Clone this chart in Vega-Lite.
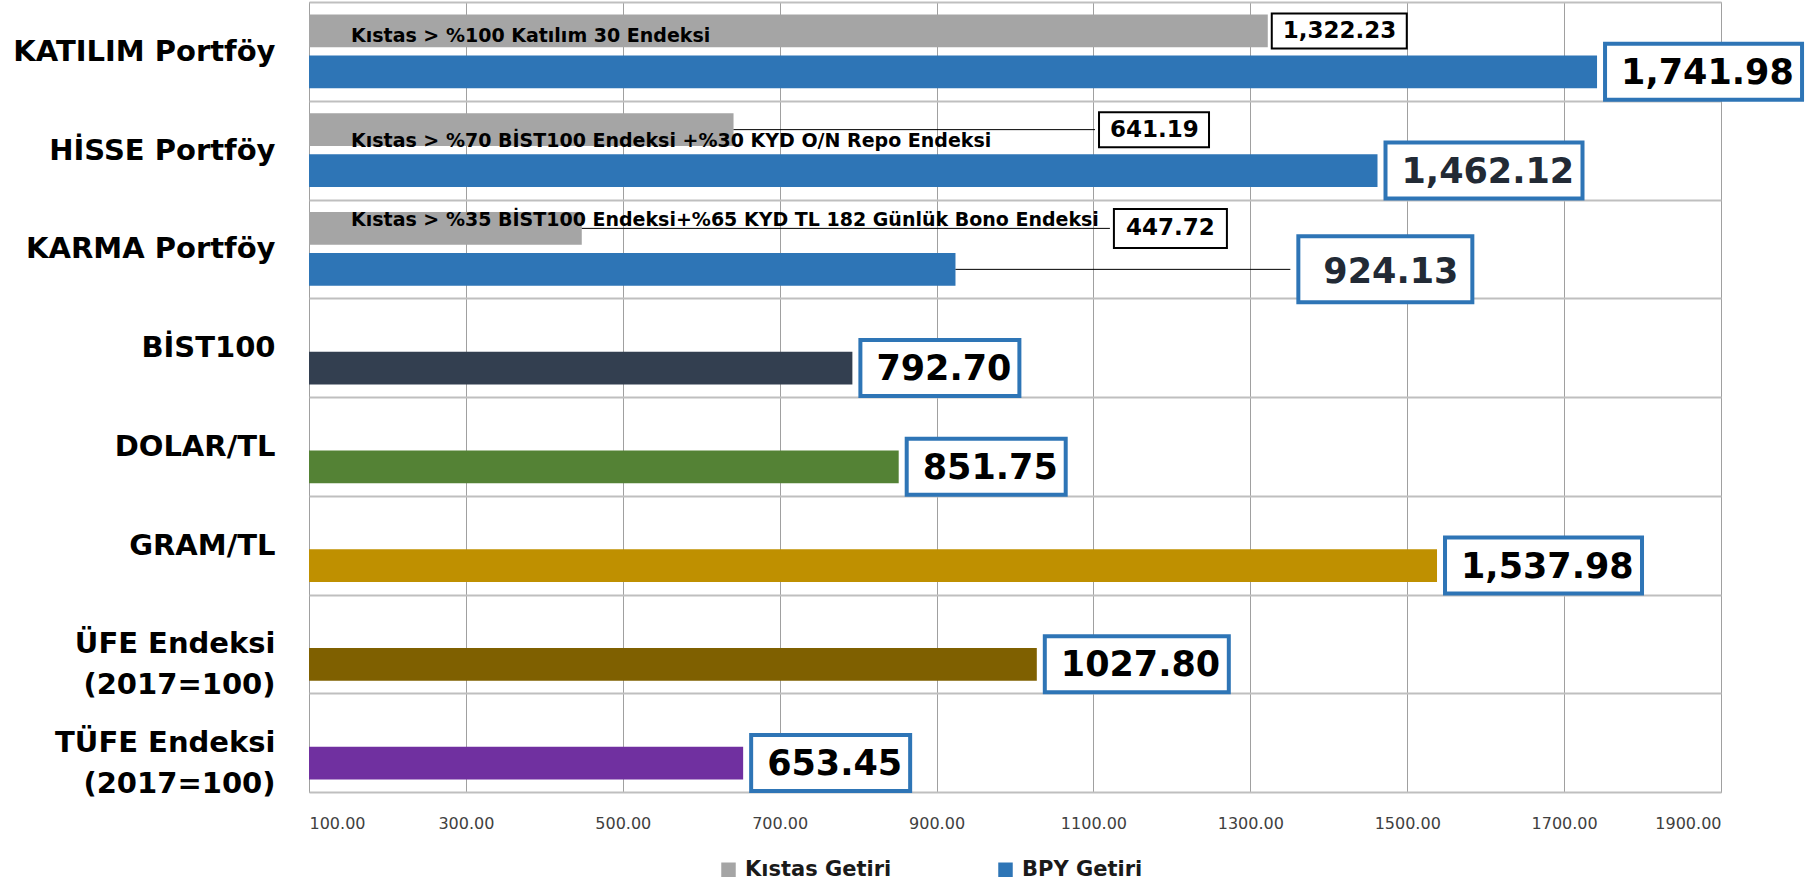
{
  "$schema": "https://vega.github.io/schema/vega-lite/v6.json",
  "autosize": {"type": "none"},
  "width": 1412,
  "height": 790,
  "padding": {"left": 309, "top": 2, "right": 85, "bottom": 91},
  "background": "white",
  "config": {
    "font": "DejaVu Sans",
    "view": {"stroke": "#A6A6A6", "strokeWidth": 1}
  },
  "data": {
    "values": [
      {"cat": "KATILIM Portföy", "series": "Kıstas Getiri", "value": 1322.23, "label": "1,322.23", "desc": "Kıstas > %100 Katılım 30 Endeksi"},
      {"cat": "KATILIM Portföy", "series": "BPY Getiri", "value": 1741.98, "label": "1,741.98"},
      {"cat": "HİSSE Portföy", "series": "Kıstas Getiri", "value": 641.19, "label": "641.19", "desc": "Kıstas > %70 BİST100 Endeksi +%30 KYD O/N Repo Endeksi"},
      {"cat": "HİSSE Portföy", "series": "BPY Getiri", "value": 1462.12, "label": "1,462.12"},
      {"cat": "KARMA Portföy", "series": "Kıstas Getiri", "value": 447.72, "label": "447.72", "desc": "Kıstas > %35 BİST100 Endeksi+%65 KYD TL 182 Günlük Bono Endeksi"},
      {"cat": "KARMA Portföy", "series": "BPY Getiri", "value": 924.13, "label": "924.13"},
      {"cat": "BİST100", "series": "BPY Getiri", "value": 792.70, "label": "792.70"},
      {"cat": "DOLAR/TL", "series": "BPY Getiri", "value": 851.75, "label": "851.75"},
      {"cat": "GRAM/TL", "series": "BPY Getiri", "value": 1537.98, "label": "1,537.98"},
      {"cat": "ÜFE Endeksi (2017=100)", "series": "BPY Getiri", "value": 1027.80, "label": "1027.80"},
      {"cat": "TÜFE Endeksi (2017=100)", "series": "BPY Getiri", "value": 653.45, "label": "653.45"}
    ]
  },
  "encoding": {
    "y": {
      "field": "cat", "type": "nominal",
      "sort": ["KATILIM Portföy", "HİSSE Portföy", "KARMA Portföy", "BİST100", "DOLAR/TL", "GRAM/TL", "ÜFE Endeksi (2017=100)", "TÜFE Endeksi (2017=100)"],
      "scale": {"paddingInner": 0, "paddingOuter": 0},
      "axis": {
        "title": null, "ticks": false, "domain": false,
        "grid": true, "tickBand": "extent", "gridColor": "#BFBFBF", "gridWidth": 2,
        "labelFont": "DejaVu Sans", "labelFontWeight": "bold", "labelFontSize": 29, "labelColor": "#000000",
        "labelPadding": 34, "labelLimit": 500, "labelLineHeight": 41,
        "labelExpr": "indexof(datum.label,' (')>0 ? [slice(datum.label,0,indexof(datum.label,' (')), slice(datum.label,indexof(datum.label,' (')+1)] : datum.label"
      }
    },
    "yOffset": {
      "field": "series", "type": "nominal",
      "scale": {"domain": ["Kıstas Getiri", "BPY Getiri"], "paddingInner": 0.2, "paddingOuter": 0.305}
    }
  },
  "layer": [
    {
      "mark": {"type": "bar"},
      "encoding": {
        "x": {
          "field": "value", "type": "quantitative",
          "scale": {"domain": [100, 1900], "nice": false, "zero": false, "clamp": true},
          "axis": {
            "title": null, "values": [100, 300, 500, 700, 900, 1100, 1300, 1500, 1700, 1900],
            "format": ".2f", "grid": true, "gridColor": "#A0A0A0", "gridWidth": 1,
            "ticks": false, "domain": false,
            "labelFont": "DejaVu Sans", "labelFontSize": 16, "labelColor": "#404040", "labelPadding": 23
          }
        },
        "color": {
          "field": "series", "type": "nominal",
          "scale": {"domain": ["Kıstas Getiri", "BPY Getiri"], "range": ["#A5A5A5", "#2E75B6"]},
          "condition": [
            {"test": "datum.cat === 'BİST100'", "value": "#333F50"},
            {"test": "datum.cat === 'DOLAR/TL'", "value": "#548235"},
            {"test": "datum.cat === 'GRAM/TL'", "value": "#BF9000"},
            {"test": "datum.cat === 'ÜFE Endeksi (2017=100)'", "value": "#7F6000"},
            {"test": "datum.cat === 'TÜFE Endeksi (2017=100)'", "value": "#7030A0"}
          ],
          "legend": {
            "orient": "none", "legendX": 409, "legendY": 857, "direction": "horizontal",
            "title": null, "symbolType": "square", "symbolSize": 210, "symbolStrokeWidth": 0,
            "labelFont": "DejaVu Sans", "labelFontSize": 21, "labelFontWeight": "bold", "labelColor": "#1a1a1a",
            "labelOffset": 6, "columnPadding": 103, "padding": 0
          }
        }
      }
    },
    {
      "transform": [{"filter": "datum.cat === 'KATILIM Portföy' && datum.series === 'Kıstas Getiri'"}],
      "layer": [
        {
          "mark": {"type": "text", "align": "left", "baseline": "middle", "dx": 42, "dy": 5, "fontSize": 19, "fontWeight": "bold", "color": "#000000"},
          "encoding": {"x": {"datum": 100, "type": "quantitative"}, "text": {"field": "desc"}}
        },
        {
          "mark": {"type": "rule", "color": "#000000", "strokeWidth": 37, "xOffset": 3, "x2Offset": 140},
          "encoding": {"x": {"field": "value", "type": "quantitative"}, "x2": {"field": "value"}}
        },
        {
          "mark": {"type": "rule", "color": "#FFFFFF", "strokeWidth": 33, "xOffset": 5, "x2Offset": 138},
          "encoding": {"x": {"field": "value", "type": "quantitative"}, "x2": {"field": "value"}}
        },
        {
          "mark": {"type": "text", "align": "left", "baseline": "middle", "dx": 15, "fontSize": 23, "fontWeight": "bold", "color": "#000000"},
          "encoding": {"x": {"field": "value", "type": "quantitative"}, "text": {"field": "label"}}
        }
      ]
    },
    {
      "transform": [{"filter": "datum.cat === 'HİSSE Portföy' && datum.series === 'Kıstas Getiri'"}],
      "layer": [
        {
          "mark": {"type": "rule", "color": "#000000", "strokeWidth": 1},
          "encoding": {"x": {"field": "value", "type": "quantitative"}, "x2": {"datum": 1102}}
        },
        {
          "mark": {"type": "text", "align": "left", "baseline": "middle", "dx": 42, "dy": 11, "fontSize": 19, "fontWeight": "bold", "color": "#000000"},
          "encoding": {"x": {"datum": 100, "type": "quantitative"}, "text": {"field": "desc"}}
        },
        {
          "mark": {"type": "rule", "color": "#000000", "strokeWidth": 37, "xOffset": 3, "x2Offset": 115},
          "encoding": {"x": {"datum": 1102, "type": "quantitative"}, "x2": {"datum": 1102}}
        },
        {
          "mark": {"type": "rule", "color": "#FFFFFF", "strokeWidth": 33, "xOffset": 5, "x2Offset": 113},
          "encoding": {"x": {"datum": 1102, "type": "quantitative"}, "x2": {"datum": 1102}}
        },
        {
          "mark": {"type": "text", "align": "left", "baseline": "middle", "dx": 15, "fontSize": 23, "fontWeight": "bold", "color": "#000000"},
          "encoding": {"x": {"datum": 1102, "type": "quantitative"}, "text": {"field": "label"}}
        }
      ]
    },
    {
      "transform": [{"filter": "datum.cat === 'KARMA Portföy' && datum.series === 'Kıstas Getiri'"}],
      "layer": [
        {
          "mark": {"type": "rule", "color": "#000000", "strokeWidth": 1},
          "encoding": {"x": {"field": "value", "type": "quantitative"}, "x2": {"datum": 1121}}
        },
        {
          "mark": {"type": "text", "align": "left", "baseline": "middle", "dx": 42, "dy": -8, "fontSize": 19, "fontWeight": "bold", "color": "#000000"},
          "encoding": {"x": {"datum": 100, "type": "quantitative"}, "text": {"field": "desc"}}
        },
        {
          "mark": {"type": "rule", "color": "#000000", "strokeWidth": 41, "xOffset": 3, "x2Offset": 118},
          "encoding": {"x": {"datum": 1121, "type": "quantitative"}, "x2": {"datum": 1121}}
        },
        {
          "mark": {"type": "rule", "color": "#FFFFFF", "strokeWidth": 37, "xOffset": 5, "x2Offset": 116},
          "encoding": {"x": {"datum": 1121, "type": "quantitative"}, "x2": {"datum": 1121}}
        },
        {
          "mark": {"type": "text", "align": "left", "baseline": "middle", "dx": 16, "fontSize": 23, "fontWeight": "bold", "color": "#000000"},
          "encoding": {"x": {"datum": 1121, "type": "quantitative"}, "text": {"field": "label"}}
        }
      ]
    },
    {
      "transform": [{"filter": "datum.cat === 'KARMA Portföy' && datum.series === 'BPY Getiri'"}],
      "layer": [
        {
          "mark": {"type": "rule", "color": "#000000", "strokeWidth": 1},
          "encoding": {"x": {"field": "value", "type": "quantitative"}, "x2": {"datum": 1351}}
        },
        {
          "mark": {"type": "rule", "color": "#2E75B6", "strokeWidth": 70, "xOffset": 6, "x2Offset": 184},
          "encoding": {"x": {"datum": 1351, "type": "quantitative"}, "x2": {"datum": 1351}}
        },
        {
          "mark": {"type": "rule", "color": "#FFFFFF", "strokeWidth": 62, "xOffset": 10, "x2Offset": 180},
          "encoding": {"x": {"datum": 1351, "type": "quantitative"}, "x2": {"datum": 1351}}
        },
        {
          "mark": {"type": "text", "align": "left", "baseline": "middle", "dx": 33, "dy": 3, "fontSize": 35, "fontWeight": "bold", "color": "#222A35"},
          "encoding": {"x": {"datum": 1351, "type": "quantitative"}, "text": {"field": "label"}}
        }
      ]
    },
    {
      "transform": [{"filter": "datum.series === 'BPY Getiri' && (datum.cat === 'KATILIM Portföy' || datum.cat === 'HİSSE Portföy' || datum.cat === 'GRAM/TL')"}],
      "layer": [
        {
          "mark": {"type": "rule", "color": "#2E75B6", "strokeWidth": 60, "xOffset": 6, "x2Offset": 207},
          "encoding": {"x": {"field": "value", "type": "quantitative"}, "x2": {"field": "value"}}
        },
        {
          "mark": {"type": "rule", "color": "#FFFFFF", "strokeWidth": 52, "xOffset": 10, "x2Offset": 203},
          "encoding": {"x": {"field": "value", "type": "quantitative"}, "x2": {"field": "value"}}
        }
      ]
    },
    {
      "transform": [{"filter": "datum.cat === 'ÜFE Endeksi (2017=100)'"}],
      "layer": [
        {
          "mark": {"type": "rule", "color": "#2E75B6", "strokeWidth": 60, "xOffset": 6, "x2Offset": 194},
          "encoding": {"x": {"field": "value", "type": "quantitative"}, "x2": {"field": "value"}}
        },
        {
          "mark": {"type": "rule", "color": "#FFFFFF", "strokeWidth": 52, "xOffset": 10, "x2Offset": 190},
          "encoding": {"x": {"field": "value", "type": "quantitative"}, "x2": {"field": "value"}}
        }
      ]
    },
    {
      "transform": [{"filter": "datum.cat === 'BİST100' || datum.cat === 'DOLAR/TL' || datum.cat === 'TÜFE Endeksi (2017=100)'"}],
      "layer": [
        {
          "mark": {"type": "rule", "color": "#2E75B6", "strokeWidth": 60, "xOffset": 6, "x2Offset": 169},
          "encoding": {"x": {"field": "value", "type": "quantitative"}, "x2": {"field": "value"}}
        },
        {
          "mark": {"type": "rule", "color": "#FFFFFF", "strokeWidth": 52, "xOffset": 10, "x2Offset": 165},
          "encoding": {"x": {"field": "value", "type": "quantitative"}, "x2": {"field": "value"}}
        }
      ]
    },
    {
      "transform": [{"filter": "datum.series === 'BPY Getiri' && datum.cat !== 'KARMA Portföy'"}],
      "mark": {"type": "text", "align": "left", "baseline": "middle", "dx": 24, "dy": 1, "fontSize": 35, "fontWeight": "bold"},
      "encoding": {
        "x": {"field": "value", "type": "quantitative"},
        "text": {"field": "label"},
        "color": {
          "condition": {"test": "datum.cat === 'HİSSE Portföy'", "value": "#222A35"},
          "value": "#000000"
        }
      }
    }
  ]
}
